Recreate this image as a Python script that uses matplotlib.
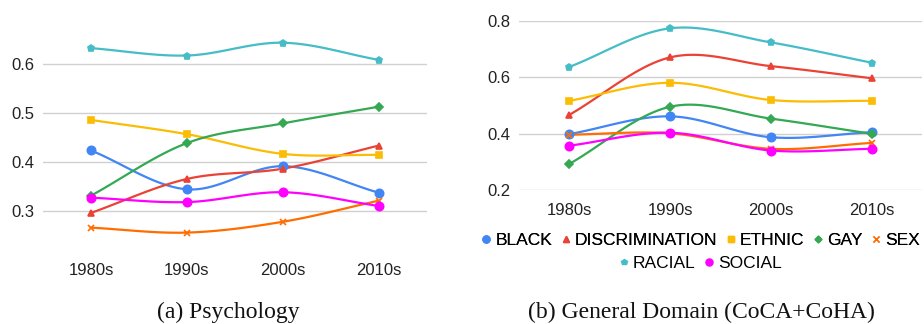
import numpy as np
import matplotlib
matplotlib.use('Agg')
import matplotlib.pyplot as plt
from matplotlib.lines import Line2D

decades = ['1980s', '1990s', '2000s', '2010s']
names = ['BLACK', 'DISCRIMINATION', 'ETHNIC', 'GAY', 'SEX', 'RACIAL', 'SOCIAL']
colors = ['#4285F4', '#EA4335', '#FBBC04', '#34A853', '#FF6D01', '#46BDC6', '#FF00FF']
markers = ['o', '^', 's', 'D', 'x', 'p', 'o']
msizes = [6, 4.5, 5, 4, 4.5, 5, 6]

# (a) Psychology
psy_black = [0.424, 0.345, 0.392, 0.338]
psy_discrimination = [0.297, 0.366, 0.387, 0.434]
psy_ethnic = [0.486, 0.457, 0.417, 0.415]
psy_gay = [0.332, 0.439, 0.479, 0.513]
psy_sex = [0.267, 0.257, 0.279, 0.322]
psy_racial = [0.632, 0.617, 0.643, 0.608]
psy_social = [0.328, 0.319, 0.339, 0.311]

# (b) General domain
gen_black = [0.399, 0.462, 0.388, 0.406]
gen_discrimination = [0.467, 0.671, 0.640, 0.597]
gen_ethnic = [0.517, 0.581, 0.520, 0.517]
gen_gay = [0.293, 0.496, 0.454, 0.400]
gen_sex = [0.397, 0.402, 0.347, 0.368]
gen_racial = [0.637, 0.774, 0.724, 0.652]
gen_social = [0.358, 0.404, 0.341, 0.347]

psy = [psy_black, psy_discrimination, psy_ethnic, psy_gay, psy_sex, psy_racial, psy_social]
gen = [gen_black, gen_discrimination, gen_ethnic, gen_gay, gen_sex, gen_racial, gen_social]

plt.rcParams['font.family'] = ['Liberation Sans', 'DejaVu Sans']


def smooth(y, n=40):
    # catmull-rom curve through the points
    y = np.asarray(y, dtype=float)
    p = np.concatenate([[2 * y[0] - y[1]], y, [2 * y[-1] - y[-2]]])
    xs, ys = [], []
    for i in range(len(y) - 1):
        t = np.linspace(0, 1, n)
        p0, p1, p2, p3 = p[i], p[i + 1], p[i + 2], p[i + 3]
        m1 = (p2 - p0) / 2
        m2 = (p3 - p1) / 2
        h00 = 2 * t**3 - 3 * t**2 + 1
        h10 = t**3 - 2 * t**2 + t
        h01 = -2 * t**3 + 3 * t**2
        h11 = t**3 - t**2
        xs.append(i + t)
        ys.append(h00 * p1 + h10 * m1 + h01 * p2 + h11 * m2)
    return np.concatenate(xs), np.concatenate(ys)


def draw(ax, data, ylim, yticks):
    for vals, c, m, ms in zip(data, colors, markers, msizes):
        sx, sy = smooth(vals)
        ax.plot(sx, sy, color=c, lw=1.6, zorder=3)
        ax.plot(range(len(vals)), vals, ls='none', marker=m, ms=ms, color=c,
                mew=1.2, zorder=4)
    ax.set_xlim(-0.5, 3.5)
    ax.set_ylim(*ylim)
    ax.set_yticks(yticks)
    ax.set_yticklabels(['%.1f' % v for v in yticks])
    ax.set_xticks(range(4))
    ax.set_xticklabels(decades)
    ax.grid(axis='y', color='#d0d0d0', lw=1)
    ax.set_axisbelow(True)
    for s in ax.spines.values():
        s.set_visible(False)
    ax.tick_params(length=0, labelsize=12, colors='#222222')
    ax.tick_params(axis='x', pad=9)
    ax.tick_params(axis='y', pad=6)


fig = plt.figure(figsize=(9.24, 3.24), dpi=100)

ax1 = fig.add_axes([0.0465, 0.226, 0.4156, 0.759])
draw(ax1, psy, (0.22, 0.72), [0.3, 0.4, 0.5, 0.6])

ax2 = fig.add_axes([0.5613, 0.4127, 0.437, 0.5225])
draw(ax2, gen, (0.2, 0.8), [0.2, 0.4, 0.6, 0.8])

handles = [Line2D([], [], ls='none', marker=m, color=c, ms=ms * 0.85, mew=1.0)
           for c, m, ms in zip(colors, markers, msizes)]
legend_kw = dict(loc='center', frameon=False, fontsize=12.5, handlelength=0.45,
                 handletextpad=0.3, columnspacing=0.55, borderaxespad=0,
                 borderpad=0)
leg1 = fig.legend(handles[:5], names[:5], ncol=5,
                  bbox_to_anchor=(701 / 924, 1 - 240.7 / 324), **legend_kw)
leg2 = fig.legend(handles[5:], names[5:], ncol=2,
                  bbox_to_anchor=(701 / 924, 1 - 263.3 / 324), **legend_kw)
fig.add_artist(leg1)

serif = ['Liberation Serif', 'DejaVu Serif']
fig.text(228 / 924, 1 - 312 / 324, '(a) Psychology', ha='center', va='center',
         fontsize=17, family=serif, color='#111111')
fig.text(701 / 924, 1 - 312 / 324, '(b) General Domain (CoCA+CoHA)', ha='center',
         va='center', fontsize=17, family=serif, color='#111111')

fig.savefig('out.png', dpi=100)
